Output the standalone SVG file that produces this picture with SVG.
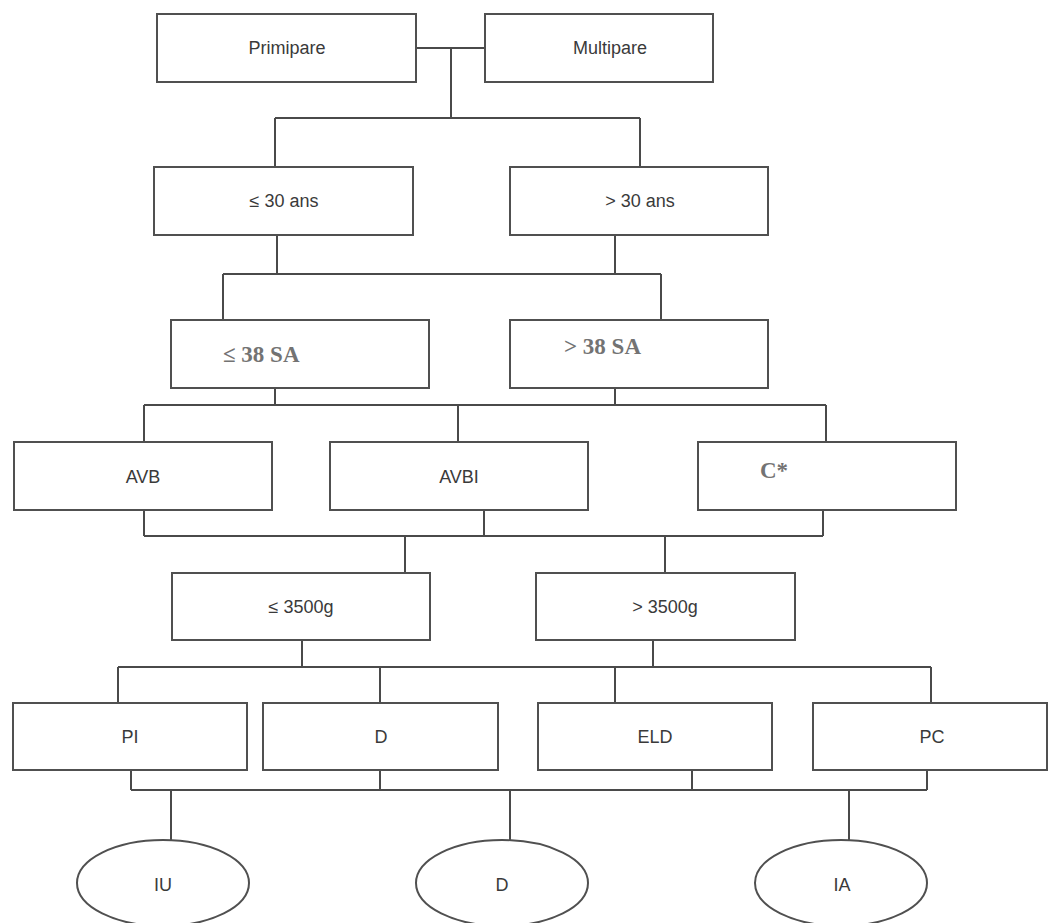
<svg xmlns="http://www.w3.org/2000/svg" width="1048" height="923" viewBox="0 0 1048 923">
<style>
.box{fill:#fff;stroke:#505050;stroke-width:2}
.ell{fill:#fff;stroke:#505050;stroke-width:2}
.ln{fill:none;stroke:#4a4a4a;stroke-width:2}
.t{font-family:"Liberation Sans",Arial,sans-serif;font-size:18px;fill:#3a3a3a;text-anchor:middle}
.tb{font-family:"Liberation Serif","Times New Roman",serif;font-size:23px;font-weight:bold;fill:#737373}
</style>
<rect width="1048" height="923" fill="#fff"/>
<g id="connectors">
<path class="ln" d="M416 48H485M451 48V118M275 118H640M275 118V167M640 118V167"/>
<path class="ln" d="M277 235V274M615 235V274M223 274H661M223 274V320M661 274V320"/>
<path class="ln" d="M275 388V405M615 388V405M144 405H826M144 405V442M458 405V442M826 405V442"/>
<path class="ln" d="M144 510V536M484 510V536M823 510V536M144 536H823M405 536V573M665 536V573"/>
<path class="ln" d="M302 640V667M653 640V667M118 667H931M118 667V703M380 667V703M615 667V703M931 667V703"/>
<path class="ln" d="M131 770V790M380 770V790M692 770V790M927 770V790M131 790H927M171 790V841M510 790V841M849 790V841"/>
</g>
<g id="primipare"><rect class="box" x="157" y="14" width="259" height="68"/><text class="t" x="287" y="54">Primipare</text></g>
<g id="multipare"><rect class="box" x="485" y="14" width="228" height="68"/><text class="t" x="610" y="54">Multipare</text></g>
<g id="le30"><rect class="box" x="154" y="167" width="259" height="68"/><text class="t" x="284" y="207">≤ 30 ans</text></g>
<g id="gt30"><rect class="box" x="510" y="167" width="258" height="68"/><text class="t" x="640" y="207">&gt; 30 ans</text></g>
<g id="le38"><rect class="box" x="171" y="320" width="258" height="68"/><text class="tb" x="223" y="362">≤ 38 SA</text></g>
<g id="gt38"><rect class="box" x="510" y="320" width="258" height="68"/><text class="tb" x="564" y="354">&gt; 38 SA</text></g>
<g id="avb"><rect class="box" x="14" y="442" width="258" height="68"/><text class="t" x="143" y="483">AVB</text></g>
<g id="avbi"><rect class="box" x="330" y="442" width="258" height="68"/><text class="t" x="459" y="483">AVBI</text></g>
<g id="cstar"><rect class="box" x="698" y="442" width="258" height="68"/><text class="tb" x="760" y="478">C*</text></g>
<g id="le3500"><rect class="box" x="172" y="573" width="258" height="67"/><text class="t" x="301" y="613">≤ 3500g</text></g>
<g id="gt3500"><rect class="box" x="536" y="573" width="259" height="67"/><text class="t" x="665" y="613">&gt; 3500g</text></g>
<g id="pi"><rect class="box" x="13" y="703" width="234" height="67"/><text class="t" x="130" y="743">PI</text></g>
<g id="d1"><rect class="box" x="263" y="703" width="235" height="67"/><text class="t" x="381" y="743">D</text></g>
<g id="eld"><rect class="box" x="538" y="703" width="234" height="67"/><text class="t" x="655" y="743">ELD</text></g>
<g id="pc"><rect class="box" x="813" y="703" width="234" height="67"/><text class="t" x="932" y="743">PC</text></g>
<g id="iu"><ellipse class="ell" cx="163" cy="883" rx="86" ry="43"/><text class="t" x="163" y="891">IU</text></g>
<g id="d2"><ellipse class="ell" cx="502" cy="883" rx="86" ry="43"/><text class="t" x="502" y="891">D</text></g>
<g id="ia"><ellipse class="ell" cx="841" cy="883" rx="86" ry="43"/><text class="t" x="842" y="891">IA</text></g>
</svg>
